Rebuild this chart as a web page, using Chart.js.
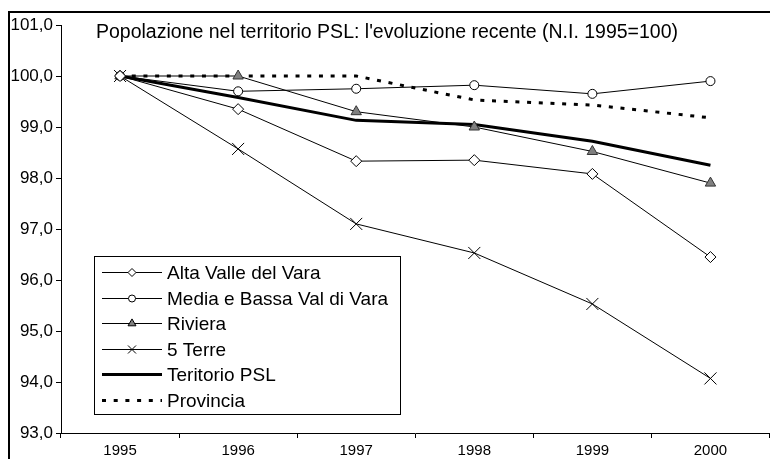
<!DOCTYPE html>
<html>
<head>
<meta charset="utf-8">
<title>Popolazione nel territorio PSL</title>
<script src="https://cdn.jsdelivr.net/npm/chart.js@4.4.0/dist/chart.umd.min.js"></script>
<style>
    html, body { margin: 0; padding: 0; background: #fff; overflow: hidden; width: 770px; height: 459px; }
    #wrap { position: relative; width: 770px; height: 459px; overflow: hidden; }
    #chart { position: absolute; left: 0; top: 0; }
</style>
</head>
<body>
<div id="wrap"><canvas id="chart" width="779" height="459"></canvas></div>
<script>
// valori (N.I. 1995 = 100)
var years       = ['1995', '1996', '1997', '1998', '1999', '2000'];
var altaValle   = [100, 99.35, 98.33, 98.35, 98.08, 96.45];
var mediaBassa  = [100, 99.70, 99.75, 99.82, 99.65, 99.90];
var riviera     = [100, 100.0, 99.30, 99.00, 98.52, 97.90];
var cinqueTerre = [100, 98.57, 97.10, 96.53, 95.53, 94.07];
var territorio  = [100, 99.58, 99.13, 99.05, 98.72, 98.25];
var provincia   = [100, 100.0, 100.0, 99.53, 99.43, 99.18];
var yTicks      = [93, 94, 95, 96, 97, 98, 99, 100, 101];

var titleText = "Popolazione nel territorio PSL: l'evoluzione recente (N.I. 1995=100)";
var FONT = "'Liberation Sans', Arial, sans-serif";

(function () {
    Chart.defaults.font.family = FONT;
    Chart.defaults.color = '#000';

    function series(label, data, extra) {
        var ds = {
            label: label,
            data: data,
            borderColor: '#000',
            borderWidth: 1,
            tension: 0,
            pointRadius: 0,
            pointBorderColor: '#000',
            pointBackgroundColor: '#fff',
            pointBorderWidth: 1,
            legendRadius: 0
        };
        Object.keys(extra || {}).forEach(function (k) { ds[k] = extra[k]; });
        return ds;
    }

    // frame + titolo
    var framePlugin = {
        id: 'frame',
        afterDraw: function (chart) {
            var ctx = chart.ctx;
            ctx.save();
            ctx.strokeStyle = '#000';
            ctx.lineWidth = 2;
            ctx.beginPath();
            ctx.moveTo(9, 459);
            ctx.lineTo(9, 12);
            ctx.lineTo(779, 12);
            ctx.stroke();

            ctx.fillStyle = '#000';
            ctx.font = '19.5px ' + FONT;
            ctx.textAlign = 'center';
            ctx.textBaseline = 'alphabetic';
            ctx.fillText(titleText, 387, 38);
            ctx.restore();
        }
    };

    // legenda con bordo dentro l'area del grafico
    var legendPlugin = {
        id: 'boxLegend',
        afterDatasetsDraw: function (chart) {
            var ctx = chart.ctx;
            ctx.save();
            ctx.fillStyle = '#fff';
            ctx.fillRect(94.5, 256.5, 306, 158);
            ctx.strokeStyle = '#000';
            ctx.lineWidth = 1;
            ctx.strokeRect(94.5, 256.5, 306, 158);

            chart.data.datasets.forEach(function (ds, i) {
                var y = Math.round(272 + i * 25.6) + 0.5;
                ctx.strokeStyle = '#000';
                ctx.lineWidth = ds.borderWidth;
                ctx.setLineDash(ds.borderDash || []);
                ctx.beginPath();
                ctx.moveTo(102, y);
                ctx.lineTo(162, y);
                ctx.stroke();
                ctx.setLineDash([]);

                if (ds.legendRadius > 0) {
                    ctx.fillStyle = ds.pointBackgroundColor;
                    ctx.lineWidth = 1;
                    Chart.helpers.drawPoint(ctx, {
                        pointStyle: ds.pointStyle,
                        radius: ds.legendRadius,
                        rotation: 0,
                        borderWidth: 1
                    }, 132, y);
                }

                ctx.fillStyle = '#000';
                ctx.font = '19px ' + FONT;
                ctx.textAlign = 'left';
                ctx.textBaseline = 'middle';
                ctx.fillText(ds.label, 167, y + 1);
            });
            ctx.restore();
        }
    };

    var datasets = [
        series('Alta Valle del Vara', altaValle, { pointStyle: 'rectRot', pointRadius: 5.5, legendRadius: 4 }),
        series('Media e Bassa Val di Vara', mediaBassa, { pointStyle: 'circle', pointRadius: 4.5, legendRadius: 3.5 }),
        series('Riviera', riviera, { pointStyle: 'triangle', pointRadius: 6, legendRadius: 4.6, pointBackgroundColor: '#808080', pointBorderColor: '#333' }),
        series('5 Terre', cinqueTerre, { pointStyle: 'crossRot', pointRadius: 8.5, legendRadius: 5.7 }),
        series('Teritorio PSL', territorio, { borderWidth: 3 }),
        series('Provincia', provincia, { borderWidth: 3, borderDash: [4, 7.7], borderCapStyle: 'butt' })
    ];

    new Chart(document.getElementById('chart').getContext('2d'), {
        type: 'line',
        data: { labels: years, datasets: datasets },
        plugins: [legendPlugin, framePlugin],
        options: {
            responsive: false,
            animation: false,
            events: [],
            layout: { padding: { top: 25, left: 0, right: 0, bottom: 0 } },
            plugins: {
                legend: { display: false },
                tooltip: { enabled: false },
                title: { display: false }
            },
            scales: {
                x: {
                    offset: true,
                    grid: { offset: true, drawOnChartArea: false, tickLength: 5, color: '#000' },
                    border: { color: '#000', width: 1 },
                    ticks: { color: '#000', padding: 4, maxRotation: 0, autoSkip: false, font: { size: 15 } },
                    afterFit: function (s) {
                        s.height = 26;
                        s.paddingLeft = 0;
                        s.paddingRight = 0;
                    }
                },
                y: {
                    min: yTicks[0],
                    max: yTicks[yTicks.length - 1],
                    afterBuildTicks: function (s) { s.ticks = yTicks.map(function (v) { return { value: v }; }); },
                    grid: { drawOnChartArea: false, tickLength: 5, color: '#000' },
                    border: { color: '#000', width: 1 },
                    ticks: {
                        color: '#000',
                        padding: 3,
                        font: { size: 17 },
                        callback: function (v) { return v.toFixed(1).replace('.', ','); }
                    },
                    afterFit: function (s) { s.width = 61; }
                }
            }
        }
    });
})();
</script>
</body>
</html>
